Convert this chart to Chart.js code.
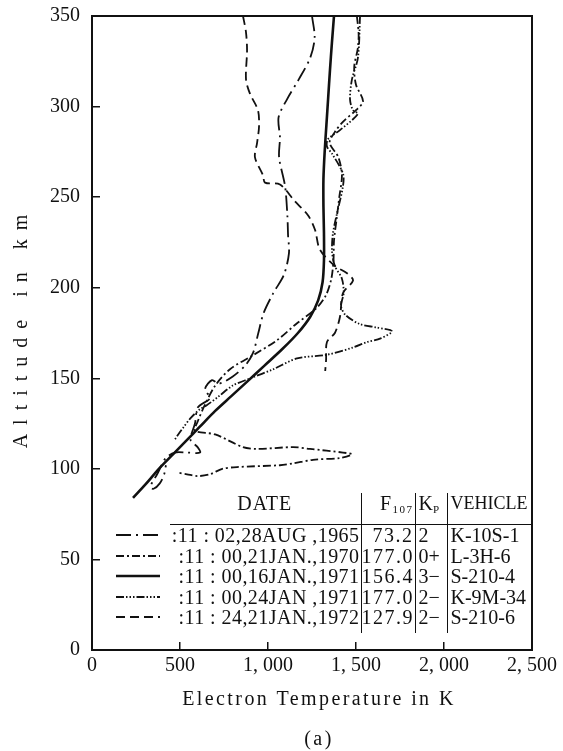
<!DOCTYPE html>
<html lang="en">
<head>
<meta charset="UTF-8">
<title>Electron Temperature vs Altitude</title>
<style>
    body {
        margin: 0;
        background: #fff;
    }
    #wrap {
        position: relative;
        width: 563px;
        height: 751px;
    }
    #legendTable {
        position: absolute;
        left: 112px;
        top: 493px;
        width: 420px;
        table-layout: fixed;
        border-collapse: collapse;
        font-family: "Liberation Serif", serif;
        font-size: 20px;
        color: #111;
    }
    #legendTable td {
        padding: 0;
        height: 20.5px;
        line-height: 20px;
        white-space: nowrap;
        vertical-align: middle;
        overflow: visible;
    }
    #legendTable tr.head td {
        height: 31px;
        vertical-align: top;
    }
    #legendTable tr.head td.c {
        border-bottom: 1.5px solid #111;
    }
    #legendTable tr.pad td {
        height: 5px;
    }
    .date { text-align: right; letter-spacing: 0.45px; border-right: 1.5px solid #111; padding-right: 1px !important; }
    .f { text-align: right; letter-spacing: 1.5px; border-right: 1.5px solid #111; padding-right: 1px !important; }
    .kp { text-align: left; border-right: 1.5px solid #111; padding-left: 3px !important; }
    .veh { text-align: left; padding-left: 3px !important; }
    tr.head .date { text-align: center; letter-spacing: 1px; }
    tr.head .veh { font-size: 18px; }
    sub { font-size: 11px; vertical-align: -3px; line-height: 0; }
    .smp svg { display: block; }
</style>
<script src="https://cdn.jsdelivr.net/npm/chart.js"></script>
</head>
<body>
<div id="wrap">
    <canvas id="chart" width="563" height="751"></canvas>
    <table id="legendTable">
        <colgroup><col style="width:58px"><col style="width:191px"><col style="width:54px"><col style="width:32px"><col style="width:85px"></colgroup>
        <tbody id="legendBody"></tbody>
    </table>
</div>

<script>
    // axis ticks
    const tempTicks = [0, 500, 1000, 1500, 2000, 2500];
    const altTicks = [0, 50, 100, 150, 200, 250, 300, 350];

    // 11:02, 28 AUG 1965  K-10S-1
    const tempAug1965 = [1250, 1265, 1240, 1175, 1108, 1060, 1068, 1063, 1097, 1110, 1114, 1119, 1090, 1030, 975, 945, 915, 870, 800, 720, 682, 642, 670, 602, 585, 560, 600, 614, 540, 470, 420, 395, 370, 345, 332, 350, 385, 410, 420];
    const altAug1965 = [350, 338, 327, 315, 304, 294, 283, 272, 256, 240, 229, 219, 207, 197, 186, 175, 164, 157, 151, 147, 149, 144, 139, 134, 125, 116, 112, 109, 109, 109, 106, 102, 97, 93, 90, 89, 92, 97, 102];

    // 11:00, 21 JAN 1970  L-3H-6
    const tempJan1970 = [1505, 1515, 1510, 1490, 1500, 1540, 1500, 1430, 1380, 1350, 1400, 1420, 1405, 1390, 1375, 1372, 1360, 1330, 1278, 1160, 1051, 920, 784, 700, 640, 600, 585, 700, 858, 938, 1142, 1239, 1426, 1477, 1409, 1256, 1142, 1068, 824, 740, 670, 600, 540, 483];
    const altJan1970 = [350, 340, 332, 322, 312, 303, 298, 292, 286, 280, 272, 262, 250, 238, 226, 215, 205, 196, 189, 180, 171, 163, 155, 146, 135, 126, 121, 119, 112, 111, 112, 111, 109, 108, 106, 105, 103, 102, 101, 100, 97, 96, 97, 98];

    // 11:00, 16 JAN 1971  S-210-4
    const tempJan16_1971 = [233, 300, 380, 460, 540, 610, 700, 790, 880, 980, 1080, 1170, 1240, 1285, 1310, 1318, 1318, 1315, 1315, 1322, 1332, 1342, 1352, 1363, 1375];
    const altJan16_1971 = [84, 91, 100, 108, 116, 123, 132, 140, 148, 157, 166, 175, 184, 193, 203, 215, 230, 245, 260, 275, 290, 305, 320, 335, 350];

    // 11:00, 24 JAN 1971  K-9M-34
    const tempJan24_1971 = [1523, 1511, 1477, 1466, 1483, 1511, 1409, 1341, 1335, 1364, 1426, 1426, 1392, 1369, 1364, 1380, 1420, 1430, 1415, 1440, 1520, 1620, 1705, 1640, 1563, 1483, 1335, 1165, 1030, 900, 800, 720, 650, 614, 560, 520, 490, 470];
    const altJan24_1971 = [350, 327, 315, 304, 298, 296, 287, 282, 278, 274, 263, 256, 241, 230, 220, 212, 205, 197, 190, 185, 180, 178, 176, 172, 170, 167, 163, 161, 155, 150, 146, 140, 135, 133, 128, 123, 119, 116];

    // 11:24, 21 JAN 1972  S-210-6
    const tempJan1972 = [858, 875, 881, 875, 898, 943, 949, 938, 926, 972, 983, 1068, 1150, 1227, 1267, 1295, 1380, 1449, 1483, 1426, 1409, 1380, 1335, 1330, 1325];
    const altJan1972 = [350, 341, 331, 315, 307, 298, 289, 280, 272, 262, 258, 257, 248, 240, 232, 221, 212, 208, 204, 197, 184, 175, 170, 160, 154];

    // table of flights
    const dates = [":11 : 02,28AUG ,1965", ":11 : 00,21JAN.,1970", ":11 : 00,16JAN.,1971", ":11 : 00,24JAN ,1971", ":11 : 24,21JAN.,1972"];
    const f107 = ["73.2", "177.0", "156.4", "177.0", "127.9"];
    const kp = ["2", "0+", "3\u2212", "2\u2212", "2\u2212"];
    const vehicles = ["K-10S-1", "L-3H-6", "S-210-4", "K-9M-34", "S-210-6"];
    const dashes = [[15, 5, 2, 5], [8, 3, 2, 3], [], [8, 2, 1.5, 2, 1.5, 2, 1.5, 2], [9, 5]];
    const widths = [1.8, 1.8, 2.6, 1.8, 1.8];

    const temps = [tempAug1965, tempJan1970, tempJan16_1971, tempJan24_1971, tempJan1972];
    const alts = [altAug1965, altJan1970, altJan16_1971, altJan24_1971, altJan1972];

    function toPoints(xs, ys) {
        return xs.map((x, i) => ({ x: x, y: ys[i] }));
    }

    function fmtTemp(v) {
        if (v < 1000) return String(v);
        const s = String(v);
        return s.slice(0, s.length - 3) + ", " + s.slice(-3);
    }

    // letter spacing + small nudge for axis titles (Chart.js has no option for it)
    const origDrawTitle = Chart.Scale.prototype.drawTitle;
    Chart.Scale.prototype.drawTitle = function () {
        const t = this.options.title;
        this.ctx.save();
        this.ctx.letterSpacing = t.letterSpacing || "0px";
        this.ctx.translate(t.shiftX || 0, t.shiftY || 0);
        origDrawTitle.apply(this, arguments);
        this.ctx.restore();
    };

    const frame = {
        id: "frame",
        afterDraw(chart) {
            const a = chart.chartArea;
            const c = chart.ctx;
            c.save();
            c.strokeStyle = "#111";
            c.lineWidth = 2;
            c.strokeRect(a.left, a.top, a.right - a.left, a.bottom - a.top);
            c.restore();
        }
    };

    const serif = "'Liberation Serif', serif";

    new Chart(document.getElementById("chart").getContext("2d"), {
        type: "scatter",
        data: {
            datasets: temps.map((t, i) => ({
                label: vehicles[i],
                data: toPoints(t, alts[i]),
                showLine: true,
                borderColor: "#111",
                borderWidth: widths[i],
                borderDash: dashes[i],
                pointRadius: 0,
                tension: 0.3,
                fill: false
            }))
        },
        options: {
            responsive: false,
            animation: false,
            layout: { padding: { top: 16, right: 31, left: 0, bottom: 0 } },
            plugins: {
                legend: { display: false },
                tooltip: { enabled: false }
            },
            scales: {
                x: {
                    type: "linear",
                    min: tempTicks[0],
                    max: tempTicks[tempTicks.length - 1],
                    afterFit: s => { s.height = 101; s.paddingLeft = 0; s.paddingRight = 0; },
                    afterBuildTicks: s => { s.ticks = tempTicks.map(v => ({ value: v })); },
                    ticks: {
                        callback: v => fmtTemp(v),
                        font: { family: serif, size: 20 },
                        color: "#111",
                        padding: 12,
                        maxRotation: 0,
                        autoSkip: false
                    },
                    grid: { drawOnChartArea: false, tickLength: -8, color: "#111", lineWidth: 1.5 },
                    border: { color: "#111", width: 2 },
                    title: {
                        display: true,
                        text: ["Electron Temperature in K", "", "(a)"],
                        font: { family: serif, size: 20, lineHeight: 1 },
                        color: "#111",
                        letterSpacing: "2.4px",
                        shiftX: 7,
                        padding: { top: 0, bottom: 1 }
                    }
                },
                y: {
                    type: "linear",
                    min: altTicks[0],
                    max: altTicks[altTicks.length - 1],
                    afterFit: s => { s.width = 92; s.paddingTop = 0; s.paddingBottom = 0; },
                    afterBuildTicks: s => { s.ticks = altTicks.map(v => ({ value: v })); },
                    ticks: {
                        font: { family: serif, size: 20 },
                        color: "#111",
                        padding: 20
                    },
                    grid: { drawOnChartArea: false, tickLength: -8, color: "#111", lineWidth: 1.5 },
                    border: { color: "#111", width: 2 },
                    title: {
                        display: true,
                        text: "Altitude in km",
                        font: { family: serif, size: 20, lineHeight: 1.2 },
                        color: "#111",
                        letterSpacing: "9px",
                        shiftY: -6,
                        padding: { top: 10, bottom: 0 }
                    }
                }
            }
        },
        plugins: [frame]
    });

    // legend table
    let html = '<tr class="head"><td class="smp"></td><td class="date c">DATE</td>' +
        '<td class="f c">F<sub>107</sub></td><td class="kp c">K<sub>P</sub></td><td class="veh c">VEHICLE</td></tr>';
    dates.forEach((d, i) => {
        const dash = dashes[i].length ? dashes[i].join(",") : "none";
        html += '<tr><td class="smp"><svg width="58" height="8"><line x1="4" y1="4" x2="48" y2="4" stroke="#111" stroke-width="' +
            widths[i] + '" stroke-dasharray="' + dash + '"/></svg></td>' +
            '<td class="date">' + d + '</td><td class="f">' + f107[i] + '</td><td class="kp">' + kp[i] +
            '</td><td class="veh">' + vehicles[i] + '</td></tr>';
    });
    html += '<tr class="pad"><td class="smp"></td><td class="date"></td><td class="f"></td><td class="kp"></td><td class="veh"></td></tr>';
    document.getElementById("legendBody").innerHTML = html;
</script>
</body>
</html>
